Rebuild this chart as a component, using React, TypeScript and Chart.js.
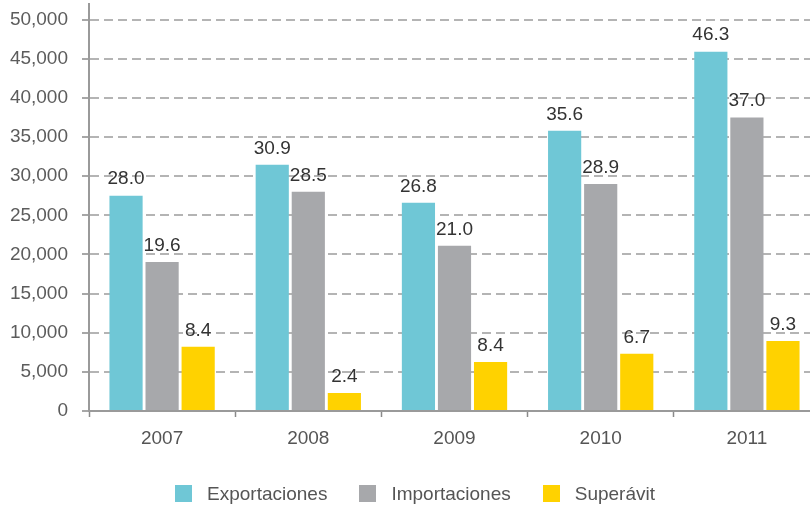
import React, { useEffect, useRef } from "react";
import { Chart, registerables } from "chart.js";

Chart.register(...registerables);

const categories = ["2007", "2008", "2009", "2010", "2011"];
const seriesNames = ["Exportaciones", "Importaciones", "Superávit"];
const seriesColors = ["#6fc7d6", "#a7a8ab", "#ffd200"];

const exportaciones = [27500, 31450, 26600, 35800, 45900];
const importaciones = [19050, 28000, 21100, 29000, 37500];
const superavit = [8200, 2300, 6250, 7300, 8950];

const exportacionesLabels = ["28.0", "30.9", "26.8", "35.6", "46.3"];
const importacionesLabels = ["19.6", "28.5", "21.0", "28.9", "37.0"];
const superavitLabels = ["8.4", "2.4", "8.4", "6.7", "9.3"];

const yTickValues = [0, 5000, 10000, 15000, 20000, 25000, 30000, 35000, 40000, 45000, 50000];
const yTickLabels = ["0", "5,000", "10,000", "15,000", "20,000", "25,000", "30,000", "35,000", "40,000", "45,000", "50,000"];
const yMax = 52000;

const FONT = "'Liberation Sans', Arial, sans-serif";

const valueLabelsPlugin = {
  id: "valueLabels",
  afterDatasetsDraw(chart: any) {
    const ctx = chart.ctx;
    const all = [exportacionesLabels, importacionesLabels, superavitLabels];
    ctx.save();
    ctx.font = `19px ${FONT}`;
    ctx.fillStyle = "#333333";
    ctx.textAlign = "center";
    ctx.textBaseline = "bottom";
    chart.data.datasets.forEach((_ds: any, di: number) => {
      const meta = chart.getDatasetMeta(di);
      meta.data.forEach((el: any, i: number) => {
        ctx.fillText(all[di][i], el.x, el.y - 7);
      });
    });
    ctx.restore();
  },
};

export default function App() {
  const canvasRef = useRef<HTMLCanvasElement | null>(null);

  useEffect(() => {
    if (!canvasRef.current) return;
    const chart = new Chart(canvasRef.current, {
      type: "bar",
      data: {
        labels: categories,
        datasets: [
          { label: seriesNames[0], data: exportaciones, backgroundColor: seriesColors[0] },
          { label: seriesNames[1], data: importaciones, backgroundColor: seriesColors[1] },
          { label: seriesNames[2], data: superavit, backgroundColor: seriesColors[2] },
        ],
      },
      options: {
        animation: false,
        responsive: true,
        maintainAspectRatio: false,
        layout: { padding: { top: 4, left: 0, right: 0, bottom: 0 } },
        datasets: {
          bar: { categoryPercentage: 0.74, barPercentage: 0.92 },
        },
        plugins: {
          legend: { display: false },
          tooltip: { enabled: false },
        },
        scales: {
          x: {
            afterFit(scale: any) {
              scale.height = 95;
            },
            grid: {
              offset: true,
              drawOnChartArea: false,
              drawTicks: true,
              tickLength: 6,
              tickColor: "#8a8a8a",
              tickWidth: 1.5,
            },
            border: { display: true, color: "#9a9a9a", width: 2 },
            ticks: {
              color: "#555555",
              font: { family: FONT, size: 19 },
              padding: 10,
              maxRotation: 0,
            },
          },
          y: {
            type: "linear",
            min: 0,
            max: yMax,
            afterBuildTicks(scale: any) {
              scale.ticks = yTickValues.map((v) => ({ value: v }));
            },
            afterFit(scale: any) {
              scale.width = 89;
              scale.paddingTop = 0;
            },
            grid: {
              color: (c: any) => (c.tick && c.tick.value !== 0 ? "#b4b4b4" : "rgba(0,0,0,0)"),
              lineWidth: 2,
              drawTicks: true,
              tickLength: 7,
              tickColor: "#8a8a8a",
              tickWidth: 1.5,
              tickBorderDash: [],
            },
            border: { display: true, color: "#9a9a9a", width: 2, dash: [9, 5] },
            ticks: {
              autoSkip: false,
              color: "#5c5c5c",
              font: { family: FONT, size: 19 },
              padding: 14,
              callback: (v: any) => {
                const idx = yTickValues.indexOf(Number(v));
                return idx >= 0 ? yTickLabels[idx] : "";
              },
            },
          },
        },
      },
      plugins: [valueLabelsPlugin],
    });
    return () => chart.destroy();
  }, []);

  return (
    <div
      style={{
        position: "absolute",
        left: 0,
        top: 0,
        width: 810,
        height: 506,
        overflow: "hidden",
        background: "#ffffff",
      }}
    >
      <div style={{ position: "absolute", left: 0, top: 0, width: 820, height: 506 }}>
        <canvas ref={canvasRef} />
      </div>
      <div
        style={{
          position: "absolute",
          left: 175,
          top: 485,
          display: "flex",
          alignItems: "center",
          fontFamily: FONT,
          fontSize: 19,
          color: "#555555",
          lineHeight: "17px",
          whiteSpace: "nowrap",
        }}
      >
        {seriesNames.map((name, i) => (
          <div key={name} style={{ display: "flex", alignItems: "center", marginRight: 32 }}>
            <span
              style={{
                display: "inline-block",
                width: 17,
                height: 17,
                background: seriesColors[i],
                marginRight: 15,
              }}
            />
            <span>{name}</span>
          </div>
        ))}
      </div>
    </div>
  );
}
